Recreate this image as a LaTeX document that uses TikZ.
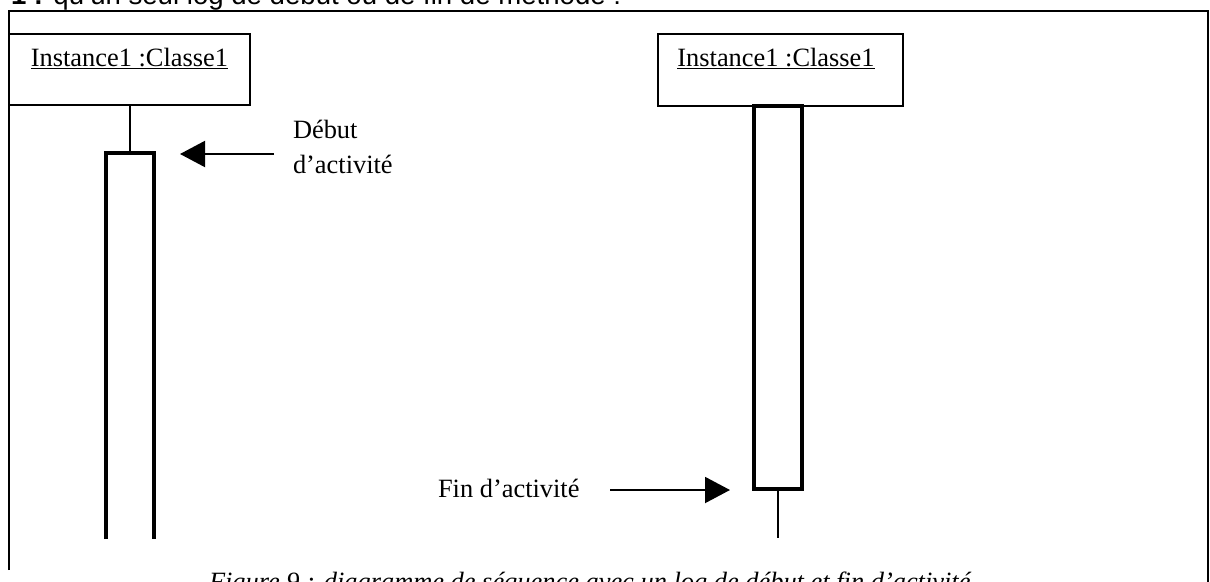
\documentclass[tikz,border=0pt]{standalone}
\usepackage{fontspec}
\setmainfont{Liberation Serif}
\newfontfamily\arialfont{Liberation Sans}
\usetikzlibrary{arrows.meta}

\begin{document}
\begin{tikzpicture}[x=1pt,y=-1pt,
    every node/.style={inner sep=0pt,outer sep=0pt},
    txt/.style={font=\fontsize{26.4}{35}\selectfont},
    frameline/.style={line width=2pt},
    objbox/.style={draw,line width=2.2pt,rectangle},
    lifeline/.style={line width=1.3pt},
    actbar/.style={line width=3.3pt},
    msg/.style={line width=2pt,-{Triangle[length=25pt,width=26pt]}}]

  % page area, text cut at its edges
  \clip (0,0) rectangle (1210,581);
  \fill[white] (0,0) rectangle (1210,581);

  % heading line above the frame
  \node[anchor=base west,font=\arialfont\fontsize{27.6}{30}\selectfont] (head) at (11,4)
    {\textbf{1 :} qu’un seul log de début ou de fin de méthode :};

  % outer frame
  \draw[frameline] (9,570) -- (9,11) -- (1208,11) -- (1208,585);

  % ---- left lifeline: start of activity ----
  \node[objbox,minimum width=241pt,minimum height=71pt] (obj1) at (129.5,69.5) {};
  \node[txt,anchor=base] (obj1t) at (129.5,66) {\underline{Instance1 :Classe1}};
  \coordinate (act1tl) at (106,153);
  \coordinate (act1tr) at (154,153);
  \coordinate (act1top) at (130,153);
  \coordinate (act1bl) at (106,539);
  \coordinate (act1br) at (154,539);
  \draw[lifeline] (obj1.south -| act1top) -- (act1top);
  \draw[actbar] (act1bl) -- (act1tl) -- (act1tr) -- (act1br);

  % label text: the node's base is its last line
  \node[txt,anchor=base west,align=left] (debut) at (293,173) {Début\\d’activité};
  \coordinate (debutfrom) at (274,154);
  \coordinate (debutto) at (180,154);
  \draw[msg] (debutfrom) -- (debutto);

  % ---- right lifeline: end of activity ----
  \node[objbox,minimum width=245pt,minimum height=72pt] (obj2) at (780.5,70) {};
  \node[txt,anchor=base] (obj2t) at (776,66) {\underline{Instance1 :Classe1}};
  \coordinate (act2tl) at (754,106);
  \coordinate (act2br) at (802,489);
  \coordinate (act2bot) at (778,489);
  \coordinate (life2end) at (778,538);
  \draw[actbar] (act2tl) rectangle (act2br);
  \draw[lifeline] (act2bot) -- (life2end);

  \node[txt,anchor=base west] (fin) at (438,497) {Fin d’activité};
  \coordinate (finfrom) at (610,490);
  \coordinate (finto) at (730,490);
  \draw[msg] (finfrom) -- (finto);

  % caption below the frame
  \node[txt,anchor=base west,font=\itshape\fontsize{26.4}{30}\selectfont] (caption) at (209,590)
    {Figure 9 : diagramme de séquence avec un log de début et fin d’activité};
\end{tikzpicture}
\end{document}
